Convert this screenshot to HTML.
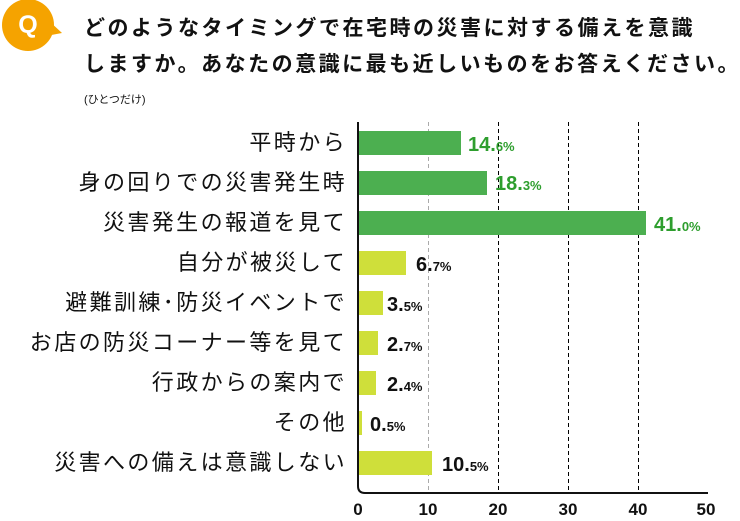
<!DOCTYPE html>
<html><head><meta charset="utf-8"><style>
body{margin:0;background:#fff;width:740px;height:521px;overflow:hidden;position:relative;font-family:"Liberation Sans","Noto Sans CJK JP",sans-serif;}
.t{position:absolute;left:84px;font-size:21px;font-weight:bold;color:#111;white-space:nowrap;letter-spacing:2.5px}
.lab{position:absolute;right:393px;font-size:22px;letter-spacing:2.4px;color:#111;white-space:nowrap;line-height:24px}
</style></head><body>
<svg width="740" height="521" style="position:absolute;left:0;top:0">
<circle cx="28" cy="25" r="26" fill="#f5a300"/>
<path d="M48 20 L62 33 L46 36 Z" fill="#f5a300"/>
<text x="28" y="33" font-size="25" font-weight="bold" fill="#fff" text-anchor="middle" font-family="Liberation Sans,sans-serif">Q</text>
<g stroke-dasharray="4,3" stroke-width="1">
<line x1="428.5" y1="122" x2="428.5" y2="492" stroke="#aaa"/>
<line x1="498.5" y1="122" x2="498.5" y2="492" stroke="#000"/>
<line x1="568.5" y1="122" x2="568.5" y2="492" stroke="#000"/>
<line x1="638.5" y1="122" x2="638.5" y2="492" stroke="#000"/>
</g>
<path d="M358 122 L358 486 Q358 493 365 493 L708 493" fill="none" stroke="#111" stroke-width="2"/>
<g fill="#4caf50">
<rect x="359" y="131" width="102" height="24"/>
<rect x="359" y="171" width="128" height="24"/>
<rect x="359" y="211" width="287" height="24"/>
</g>
<g fill="#cfdf3a">
<rect x="359" y="251" width="47" height="24"/>
<rect x="359" y="291" width="24" height="24"/>
<rect x="359" y="331" width="19" height="24"/>
<rect x="359" y="371" width="17" height="24"/>
<rect x="359" y="411" width="3" height="24"/>
<rect x="359" y="451" width="73" height="24"/>
</g>
<g font-family="Liberation Sans,sans-serif" font-weight="bold" font-size="20">
<text x="468" y="151" fill="#2e9e2e">14.<tspan font-size="13">6%</tspan></text>
<text x="495" y="190" fill="#2e9e2e">18.<tspan font-size="13">3%</tspan></text>
<text x="654" y="231" fill="#2e9e2e">41.<tspan font-size="13">0%</tspan></text>
<text x="416" y="271" fill="#111">6.<tspan font-size="13">7%</tspan></text>
<text x="387" y="311" fill="#111">3.<tspan font-size="13">5%</tspan></text>
<text x="387" y="351" fill="#111">2.<tspan font-size="13">7%</tspan></text>
<text x="387" y="391" fill="#111">2.<tspan font-size="13">4%</tspan></text>
<text x="370" y="431" fill="#111">0.<tspan font-size="13">5%</tspan></text>
<text x="442" y="471" fill="#111">10.<tspan font-size="13">5%</tspan></text>
</g>
<g font-family="Liberation Sans,sans-serif" font-weight="bold" font-size="17" fill="#111" text-anchor="middle">
<text x="358" y="515">0</text><text x="428" y="515">10</text><text x="498" y="515">20</text><text x="568" y="515">30</text><text x="638" y="515">40</text><text x="706" y="515">50</text>
</g>
</svg>
<div class="t" style="top:12px">どのようなタイミングで在宅時の災害に対する備えを意識</div>
<div class="t" style="top:48px">しますか。あなたの意識に最も近しいものをお答えください。</div>
<div style="position:absolute;left:84px;top:91px;font-size:11px;color:#111">(ひとつだけ)</div>
<div class="lab" style="top:131px">平時から</div>
<div class="lab" style="top:171px">身の回りでの災害発生時</div>
<div class="lab" style="top:211px">災害発生の報道を見て</div>
<div class="lab" style="top:251px">自分が被災して</div>
<div class="lab" style="top:291px">避難訓練･防災イベントで</div>
<div class="lab" style="top:331px">お店の防災コーナー等を見て</div>
<div class="lab" style="top:371px">行政からの案内で</div>
<div class="lab" style="top:411px">その他</div>
<div class="lab" style="top:451px">災害への備えは意識しない</div>
</body></html>
